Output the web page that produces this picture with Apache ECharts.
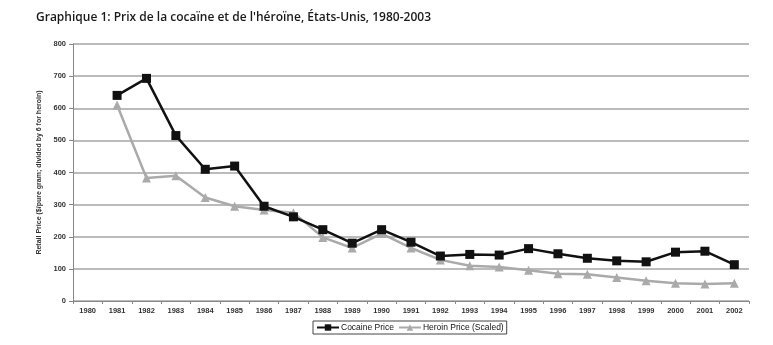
<!DOCTYPE html>
<html><head><meta charset="utf-8">
<script src="https://cdn.jsdelivr.net/npm/echarts@6/dist/echarts.min.js"></script>
<style>html,body{margin:0;padding:0;background:#fff}#c{width:773px;height:345px}</style>
</head><body><div id="c"></div>
<script>
const years = ['1980','1981','1982','1983','1984','1985','1986','1987','1988','1989','1990','1991','1992','1993','1994','1995','1996','1997','1998','1999','2000','2001','2002'];
const cocaine = [null,640,693,515,410,420,295,262,222,180,222,183,140,145,143,163,147,133,125,122,152,155,113];
const heroin = [null,610,383,390,322,295,283,275,198,165,210,165,128,110,106,96,85,83,73,63,55,53,55];
const yTicks = [0,100,200,300,400,500,600,700,800];

const chart = echarts.init(document.getElementById('c'));
chart.setOption({
  animation:false,
  title:{text:"Graphique 1: Prix de la cocaïne et de l'héroïne, États-Unis, 1980-2003",left:31,top:7,
    textStyle:{fontFamily:'Open Sans',fontSize:12,fontWeight:600,color:'#1a1a1a'}},
  grid:{left:73,right:24,top:44,bottom:44},
  legend:{bottom:11,left:313,itemGap:4,itemWidth:22,itemHeight:8,
    borderColor:'#444',borderWidth:1,padding:[2,3,2,3],borderRadius:0,
    textStyle:{fontFamily:'Liberation Sans',fontSize:8.5,color:'#111',padding:[0,0,0,-3]},
    data:['Cocaine Price','Heroin Price (Scaled)']},
  xAxis:{type:'category',data:years,boundaryGap:true,
    axisLine:{lineStyle:{color:'#888',width:1}},
    axisTick:{show:true,length:3,lineStyle:{color:'#888'}},
    axisLabel:{fontFamily:'Liberation Sans',fontSize:7.5,fontWeight:'bold',color:'#333',margin:6,interval:0}},
  yAxis:{type:'value',min:yTicks[0],max:yTicks[yTicks.length-1],interval:100,
    name:'Retail Price ($/pure gram; divided by 6 for heroin)',nameLocation:'middle',nameGap:30,
    nameTextStyle:{fontFamily:'Liberation Sans',fontSize:7,fontWeight:'bold',color:'#333'},
    axisLine:{show:true,lineStyle:{color:'#888',width:1}},
    axisTick:{show:true,length:4,lineStyle:{color:'#888'}},
    splitLine:{lineStyle:{color:'#bbb',width:2}},
    axisLabel:{fontFamily:'Liberation Sans',fontSize:7.5,fontWeight:'bold',color:'#333',margin:7}},
  series:[
    {name:'Cocaine Price',type:'line',data:cocaine,symbol:'rect',symbolSize:9,z:3,
      lineStyle:{color:'#111',width:2.5},itemStyle:{color:'#111'}},
    {name:'Heroin Price (Scaled)',type:'line',data:heroin,symbol:'triangle',symbolSize:9,z:2,
      lineStyle:{color:'#aaa',width:2.5},itemStyle:{color:'#aaa'}}
  ]
});
</script></body></html>
